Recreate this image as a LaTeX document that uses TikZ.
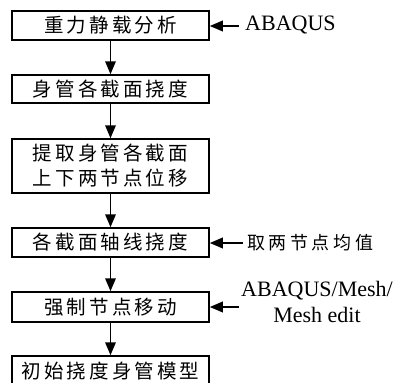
\documentclass[tikz,border=0pt]{standalone}
\usepackage{fontspec}
\setmainfont{Liberation Serif}
\newfontfamily\cjk[LetterSpace=16]{Noto Sans CJK SC}
\newfontfamily\cjkb[LetterSpace=20]{Noto Sans CJK SC}
\usetikzlibrary{arrows.meta}
\begin{document}
\begin{tikzpicture}[x=1pt,y=-1pt,
  box/.style={draw, line width=1.5pt, minimum width=197pt, inner sep=0pt,
    align=center, font={\cjk\fontsize{19.5}{25}\selectfont}},
  arr/.style={line width=1.9pt, -{Triangle[length=13pt,width=10.5pt]}},
  lab/.style={inner sep=0pt, align=center, font={\fontsize{22}{26}\selectfont}},
  cjklab/.style={inner sep=0pt, font={\cjkb\fontsize{18}{20}\selectfont}}]
\useasboundingbox (0,0) rectangle (400,383);
\node[box, minimum height=29pt] (b1) at (110.5,25.5) {重力静载分析};
\node[box, minimum height=28pt] (b2) at (110.5,89) {身管各截面挠度};
\node[box, minimum height=54pt] (b3) at (110.5,166) {提取身管各截面\\上下两节点位移};
\node[box, minimum height=29pt] (b4) at (110.5,242.5) {各截面轴线挠度};
\node[box, minimum height=30pt] (b5) at (110.5,307) {强制节点移动};
\node[box, minimum height=30pt] (b6) at (110.5,371) {初始挠度身管模型};
\draw[arr] (b1) -- (b2);
\draw[arr] (b2) -- (b3);
\draw[arr] (b3) -- (b4);
\draw[arr] (b4) -- (b5);
\draw[arr] (b5) -- (b6);
\node[lab, anchor=west] (l1) at (245,25) {ABAQUS};
\coordinate (t1) at (239,26);
\draw[arr] (t1) -- (t1 -| b1.east);
\node[cjklab, anchor=west] (l4) at (247,243) {取两节点均值};
\coordinate (t4) at (243,243);
\draw[arr] (t4) -- (t4 -| b4.east);
\node[lab] (l5) at (317,302) {ABAQUS/Mesh/\\Mesh edit};
\coordinate (t5) at (239,307);
\draw[arr] (t5) -- (t5 -| b5.east);
\end{tikzpicture}
\end{document}
